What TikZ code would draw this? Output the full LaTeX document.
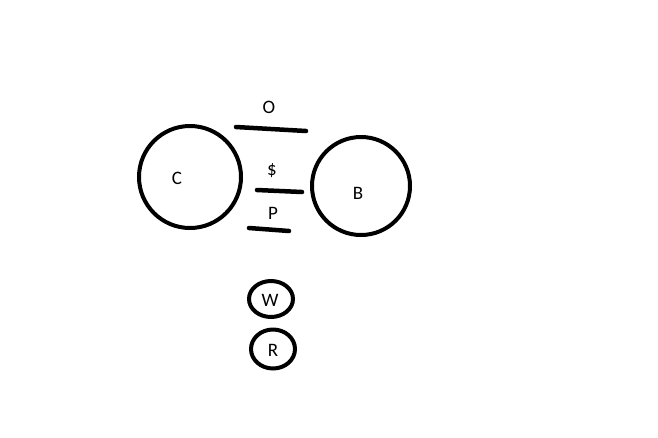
\documentclass[tikz,border=0pt]{standalone}
\usepackage{fontspec}
\setmainfont{Carlito}
\usetikzlibrary{shapes.geometric}
\begin{document}
\begin{tikzpicture}[x=1pt,y=-1pt,
  ring/.style={draw=black,line width=4pt,circle,inner sep=0pt,minimum size=#1},
  oval/.style={draw=black,line width=4pt,ellipse,inner sep=0pt,minimum width=#1},
  bar/.style={line width=4.5pt,line cap=round},
  lbl/.style={font=\fontsize{19}{22}\selectfont,inner sep=0pt}]
\useasboundingbox (0,0) rectangle (658,437);
\node[ring=102pt] (C) at (190,177) {};
\node[lbl] (Ct) at (177,178) {C};
\node[ring=98pt] (B) at (361,186) {};
\node[lbl] (Bt) at (358,193) {B};
\node[oval=44pt,minimum height=36pt] (W) at (271,299) {};
\node[lbl] (Wt) at (270,300) {W};
\node[oval=44pt,minimum height=39pt] (R) at (273,349) {};
\node[lbl] (Rt) at (273,350) {R};
\coordinate (o1) at (236,127); \coordinate (o2) at (306,131);
\coordinate (d1) at (257,190); \coordinate (d2) at (302,192);
\coordinate (p1) at (249,228); \coordinate (p2) at (289,231);
\draw[bar] (o1) -- (o2);
\draw[bar] (d1) -- (d2);
\draw[bar] (p1) -- (p2);
\node[lbl] (O) at (269,107) {O};
\node[lbl] (D) at (272,171) {\$};
\node[lbl] (P) at (273,213) {P};
\end{tikzpicture}
\end{document}
